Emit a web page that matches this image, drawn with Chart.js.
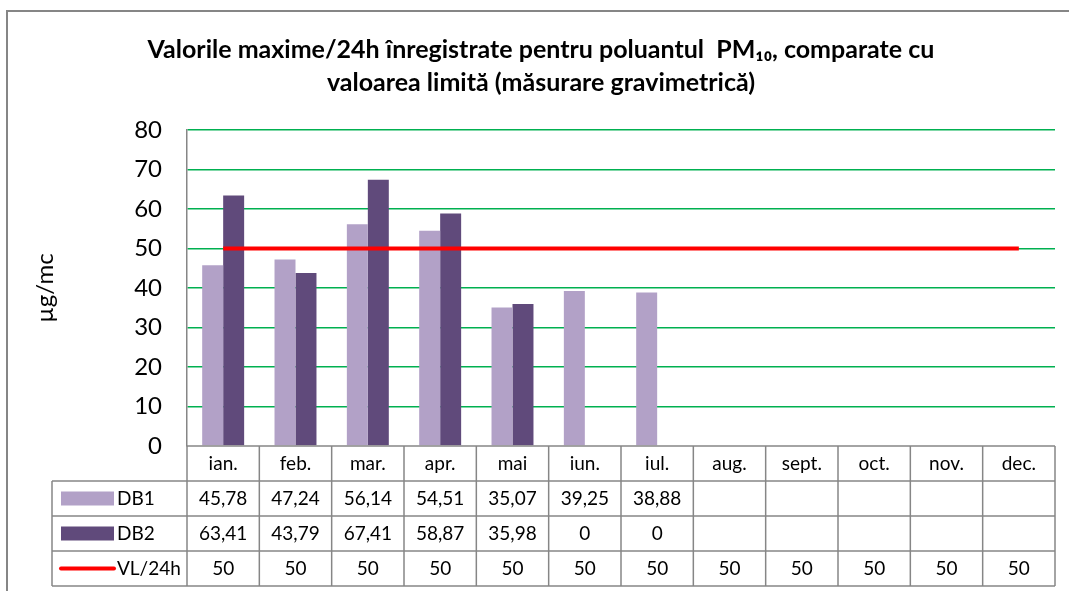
<!DOCTYPE html>
<html>
<head>
<meta charset="utf-8">
<script src="https://cdn.jsdelivr.net/npm/chart.js@4"></script>
<style>
  html, body { margin: 0; padding: 0; background: #fff; }
  #wrap { width: 1069px; height: 591px; }
</style>
</head>
<body>
<div id="wrap"><canvas id="chart" width="1069" height="591"></canvas></div>
<script>
const months = ['ian.', 'feb.', 'mar.', 'apr.', 'mai', 'iun.', 'iul.', 'aug.', 'sept.', 'oct.', 'nov.', 'dec.'];
const db1 = [45.78, 47.24, 56.14, 54.51, 35.07, 39.25, 38.88, null, null, null, null, null];
const db2 = [63.41, 43.79, 67.41, 58.87, 35.98, 0, 0, null, null, null, null, null];
const vl24 = [50, 50, 50, 50, 50, 50, 50, 50, 50, 50, 50, 50];
const yTicks = [0, 10, 20, 30, 40, 50, 60, 70, 80];

const FONT = 'Lato, "Open Sans", sans-serif';
const GREY = '#868686';

function fmt(v) {
    if (v === null || v === undefined) return '';
    return Number.isInteger(v) ? String(v) : v.toFixed(2).replace('.', ',');
}

// data table under the plot + outer frame
const tablePlugin = {
    id: 'dataTable',
    afterDraw(chart) {
        const ctx = chart.ctx;
        const area = chart.chartArea;
        const n = months.length;
        const colW = (area.right - area.left) / n;
        const rowH = 35;
        const top = area.bottom;
        const labelLeft = 52;

        ctx.save();
        // outer frame (top + left only)
        ctx.strokeStyle = GREY;
        ctx.lineWidth = 2;
        ctx.beginPath();
        ctx.moveTo(7, 591);
        ctx.lineTo(7, 11);
        ctx.lineTo(1069, 11);
        ctx.stroke();

        ctx.lineWidth = 1.5;
        ctx.beginPath();
        // horizontal lines
        ctx.moveTo(area.left, top);
        ctx.lineTo(area.right, top);
        for (let r = 1; r <= 4; r++) {
            ctx.moveTo(labelLeft, top + r * rowH);
            ctx.lineTo(area.right, top + r * rowH);
        }
        // vertical lines
        for (let c = 0; c <= n; c++) {
            const x = area.left + c * colW;
            ctx.moveTo(x, top);
            ctx.lineTo(x, top + 4 * rowH);
        }
        ctx.moveTo(labelLeft, top + rowH);
        ctx.lineTo(labelLeft, top + 4 * rowH);
        ctx.stroke();

        ctx.fillStyle = '#000';
        ctx.font = '19px ' + FONT;
        ctx.textAlign = 'center';
        ctx.textBaseline = 'middle';
        const rows = [db1, db2, vl24];
        for (let c = 0; c < n; c++) {
            const cx = area.left + (c + 0.5) * colW;
            ctx.fillText(months[c], cx, top + rowH / 2);
            rows.forEach((arr, r) => {
                ctx.fillText(fmt(arr[c]), cx, top + (r + 1.5) * rowH);
            });
        }

        // legend keys in first column
        const ds = chart.data.datasets;
        ctx.textAlign = 'left';
        for (let r = 0; r < 3; r++) {
            const cy = top + (r + 1.5) * rowH;
            const d = ds[r];
            if (d.type === 'line') {
                ctx.strokeStyle = d.borderColor;
                ctx.lineWidth = 4;
                ctx.lineCap = 'round';
                ctx.beginPath();
                ctx.moveTo(61, cy);
                ctx.lineTo(114, cy);
                ctx.stroke();
            } else {
                ctx.fillStyle = d.backgroundColor;
                ctx.fillRect(61, cy - 7, 53, 14);
            }
            ctx.fillStyle = '#000';
            ctx.fillText(d.label, 117, cy);
        }
        ctx.restore();
    }
};

const ctx = document.getElementById('chart').getContext('2d');
const myChart = new Chart(ctx, {
    type: 'bar',
    data: {
        labels: months,
        datasets: [{
            label: 'DB1',
            data: db1,
            backgroundColor: '#B2A1C7',
            categoryPercentage: 0.58,
            barPercentage: 1.0,
            order: 1
        }, {
            label: 'DB2',
            data: db2,
            backgroundColor: '#604A7B',
            categoryPercentage: 0.58,
            barPercentage: 1.0,
            order: 1
        }, {
            type: 'line',
            label: 'VL/24h',
            data: vl24,
            borderColor: '#FF0000',
            borderWidth: 4,
            pointRadius: 0,
            fill: false,
            order: 0
        }]
    },
    options: {
        responsive: false,
        animation: false,
        layout: {
            padding: { left: 27, right: 14, top: 0, bottom: 145 }
        },
        plugins: {
            legend: { display: false },
            tooltip: { enabled: false },
            title: {
                display: true,
                text: ['Valorile maxime/24h înregistrate pentru poluantul  PM\u2081\u2080, comparate cu',
                       'valoarea limită (măsurare gravimetrică)'],
                color: '#000',
                font: { family: FONT, size: 25, weight: 'bold', lineHeight: 1.3 },
                padding: { top: 34, bottom: 31 }
            }
        },
        scales: {
            x: {
                display: false
            },
            y: {
                min: 0,
                max: 80,
                afterBuildTicks: (scale) => { scale.ticks = yTicks.map(v => ({ value: v })); },
                afterFit: (scale) => { scale.width = 160; },
                border: { color: GREY, width: 1.5 },
                grid: {
                    drawTicks: false,
                    color: (c) => c.tick && c.tick.value === 0 ? 'rgba(0,0,0,0)' : '#00B050',
                    lineWidth: 1.4
                },
                ticks: {
                    color: '#000',
                    padding: 25,
                    font: { family: FONT, size: 24 }
                },
                title: {
                    display: true,
                    text: 'µg/mc',
                    color: '#000',
                    font: { family: FONT, size: 24 }
                }
            }
        }
    },
    plugins: [tablePlugin]
});
</script>
</body>
</html>
